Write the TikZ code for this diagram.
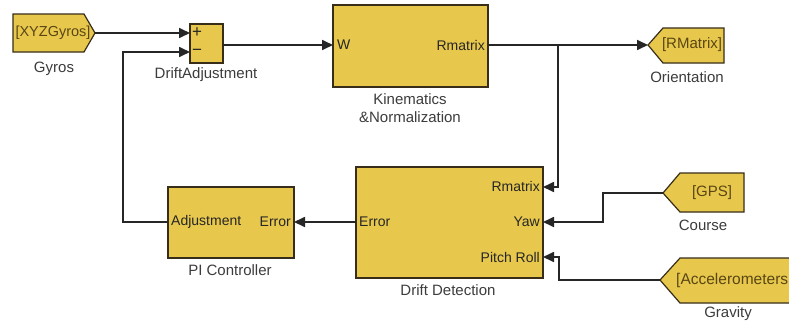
\documentclass[tikz,border=0pt]{standalone}
\usepackage{fontspec}
\setmainfont{Liberation Sans}
\usetikzlibrary{arrows.meta}
\definecolor{blkfill}{RGB}{231,200,76}
\definecolor{blkedge}{RGB}{55,45,25}
\definecolor{tagtext}{RGB}{90,70,20}
\definecolor{lbltext}{RGB}{60,60,60}
\tikzset{
  blk/.style={draw=blkedge, fill=blkfill, line width=1.7pt},
  tagshape/.style={draw=blkedge, fill=blkfill, line width=1.2pt},
  porttext/.style={font=\fontsize{14}{16}\selectfont, text=black!85, inner sep=0pt},
  tagtxt/.style={font=\fontsize{15}{17}\selectfont, text=tagtext, inner sep=0pt},
  lbl/.style={font=\fontsize{15}{17}\selectfont, text=lbltext, inner sep=0pt, align=center},
  wire/.style={draw=black!85, line width=1.7pt},
  arr/.style={wire, -{Triangle[length=11pt,width=10pt]}},
}
\begin{document}
\begin{tikzpicture}[x=1pt,y=-1pt]
\clip (0,0) rectangle (789,327);
\fill[white] (0,0) rectangle (789,327);

% ---- Gyros tag
\draw[tagshape] (13,14) -- (84,14) -- (95,33) -- (84,52) -- (13,52) -- cycle;
\coordinate (gyrostip) at (95,33);
\node[tagtxt, font=\fontsize{14.5}{17}\selectfont] (gyrostxt) at (53,33) {[XYZGyros]};
\node[lbl] (gyroslbl) at (54,69) {Gyros};

% ---- Sum block
\node[blk, minimum width=33pt, minimum height=39pt, inner sep=0pt] (sum) at (206.5,43.5) {};
\node[porttext, font=\fontsize{17}{17}\selectfont] (plus) at (197,33) {+};
\node[porttext, font=\fontsize{17}{17}\selectfont] (minus) at (197,52) {\textminus};
\coordinate (sumin1) at (190,33);
\coordinate (sumin2) at (190,52);
\coordinate (sumout) at (223,45);
\node[lbl] (sumlbl) at (206,75) {DriftAdjustment};

% ---- Kinematics block
\node[blk, minimum width=155pt, minimum height=82pt, inner sep=0pt] (kin) at (410.5,46) {};
\node[porttext, anchor=west] (kinW) at (337,45) {W};
\node[porttext, anchor=east] (kinR) at (485,45) {Rmatrix};
\coordinate (kinin) at (333,45);
\coordinate (kinout) at (488,45);
\node[lbl] (kinlbl) at (410,108) {Kinematics\\[1pt]\&Normalization};

% ---- Orientation tag
\draw[tagshape] (648,45) -- (663,28) -- (724,28) -- (724,63) -- (663,63) -- cycle;
\coordinate (orienttip) at (648,45);
\node[tagtxt] (orienttxt) at (692,45) {[RMatrix]};
\node[lbl] (orientlbl) at (687,77) {Orientation};

% ---- Drift Detection block
\node[blk, minimum width=187pt, minimum height=111pt, inner sep=0pt] (drift) at (449.5,222.5) {};
\node[porttext, anchor=east] (dR) at (540,186) {Rmatrix};
\node[porttext, anchor=east] (dY) at (540,222) {Yaw};
\node[porttext, anchor=east] (dP) at (540,257) {Pitch Roll};
\node[porttext, anchor=west] (dE) at (359,222) {Error};
\coordinate (drin1) at (543,187);
\coordinate (drin2) at (543,222);
\coordinate (drin3) at (543,257);
\coordinate (drout) at (356,222);
\node[lbl] (driftlbl) at (448,290) {Drift Detection};

% ---- PI Controller block
\node[blk, minimum width=126pt, minimum height=71pt, inner sep=0pt] (pi) at (231,222.5) {};
\node[porttext, anchor=west] (piA) at (171,222) {Adjustment};
\node[porttext, anchor=east] (piE) at (291,222) {Error};
\coordinate (piin) at (294,222);
\coordinate (piout) at (168,222);
\node[lbl] (pilbl) at (230,270) {PI Controller};

% ---- GPS tag
\draw[tagshape] (663,193) -- (680,173) -- (744,173) -- (744,212) -- (680,212) -- cycle;
\coordinate (gpstip) at (663,193);
\node[tagtxt] (gpstxt) at (712,193) {[GPS]};
\node[lbl] (gpslbl) at (703,225) {Course};

% ---- Accelerometers tag
\draw[tagshape] (660,280) -- (680,258) -- (800,258) -- (800,303) -- (680,303) -- cycle;
\coordinate (acctip) at (660,280);
\node[tagtxt, font=\fontsize{15.5}{17}\selectfont, anchor=west] (acctxt) at (676,280) {[Accelerometers};
\node[lbl] (acclbl) at (728,314) {Gravity};

% ---- connectors
\coordinate (branch) at (558,45);
\draw[arr] (gyrostip) -- (sumin1);
\draw[arr] (sumout) -- (kinin);
\draw[arr] (kinout) -- (orienttip);
\draw[arr] (branch) -- (branch |- drin1) -- (drin1);
\draw[arr] (gpstip) -- (603,193) -- (603,222) -- (drin2);
\draw[arr] (acctip) -- (559,280) -- (559,257) -- (drin3);
\draw[arr] (drout) -- (piin);
\draw[arr] (piout) -- (123,222) -- (123,52) -- (sumin2);
\end{tikzpicture}
\end{document}
